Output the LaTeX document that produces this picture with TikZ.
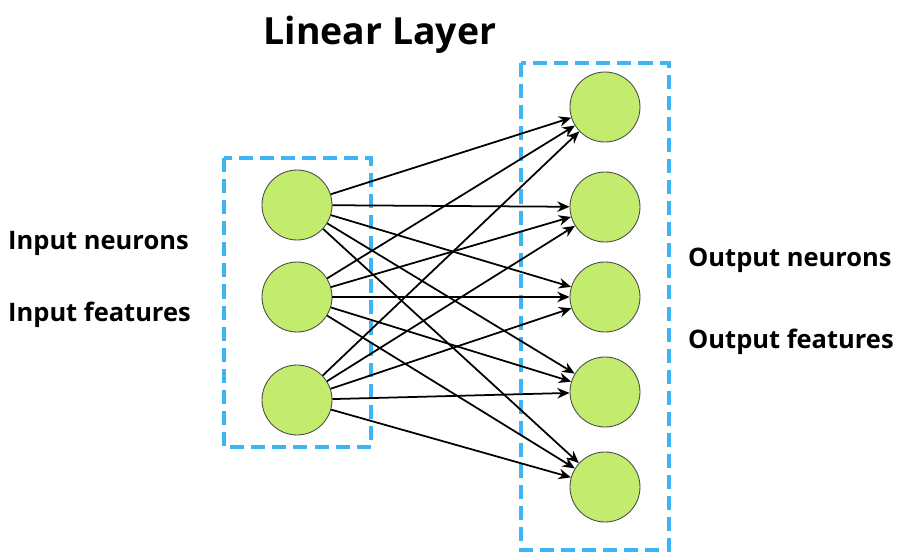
\documentclass[tikz,border=0pt]{standalone}
\usepackage{fontspec}
\setmainfont{Open Sans}
\usetikzlibrary{arrows.meta}
\definecolor{nfill}{HTML}{C3EC6E}
\definecolor{boxc}{HTML}{3DB5F2}
\begin{document}
\begin{tikzpicture}[x=0.02cm,y=-0.02cm,
  neuron/.style={circle,draw=black!70,fill=nfill,minimum size=1.4cm,inner sep=0pt,line width=0.5pt},
  grp/.style={draw=boxc,line width=2.2pt,dash pattern=on 8pt off 4pt},
  conn/.style={-{Stealth[length=7pt,width=6pt]},line width=1pt,black},
  lbl/.style={font=\fontsize{14.5}{17}\selectfont\bfseries,anchor=west}]
\useasboundingbox (0,0) rectangle (904,554);
\fill[white] (0,0) rectangle (904,554);
\draw[grp] (224,158) rectangle (371,447);
\draw[grp] (521,63) rectangle (669,550);
\node[font=\fontsize{21.3}{24}\selectfont\bfseries] (title) at (380,35) {Linear Layer};
\foreach \i/\y in {1/205,2/297,3/400} \node[neuron] (in\i) at (297,\y) {};
\foreach \j/\y in {1/107,2/207,3/297,4/392,5/487} \node[neuron] (out\j) at (605,\y) {};
\foreach \i in {1,2,3} \foreach \j in {1,...,5} \draw[conn] (in\i) -- (out\j);
\node[lbl] (l1) at (2,243) {Input neurons};
\node[lbl] (l2) at (2,315) {Input features};
\node[lbl] (l3) at (682,260) {Output neurons};
\node[lbl] (l4) at (682,342) {Output features};
\end{tikzpicture}
\end{document}
